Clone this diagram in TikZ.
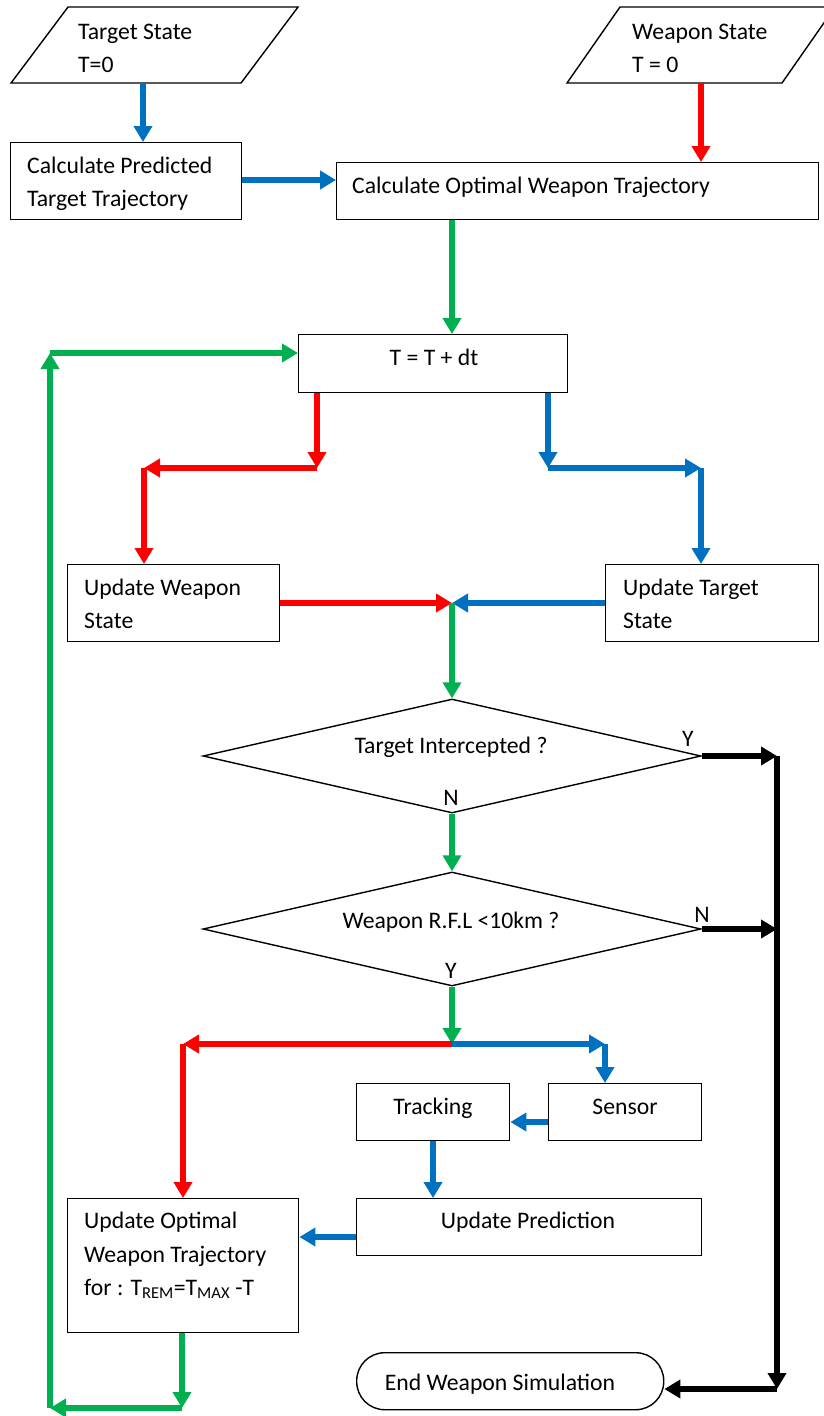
\documentclass[tikz,border=0pt]{standalone}
\usepackage{fontspec}
\setmainfont{Carlito}
\usetikzlibrary{arrows.meta,shapes.geometric}
\definecolor{flowblue}{HTML}{0070C0}
\definecolor{flowred}{HTML}{FF0000}
\definecolor{flowgreen}{HTML}{00B050}
\begin{document}
\begin{tikzpicture}[x=1pt,y=-1pt,
  font=\fontsize{23.7}{28}\selectfont,
  outline/.style={draw=black, line width=1.4pt},
  box/.style={outline, rectangle, inner sep=0pt, anchor=north west},
  decision/.style={outline, diamond, inner sep=0pt, minimum width=498pt, minimum height=114pt},
  lbl/.style={anchor=base west, inner sep=0pt},
  clbl/.style={anchor=base, inner sep=0pt},
  link/.style={line width=5.5pt, -{Triangle[length=16pt,width=18pt]}},
]
\useasboundingbox (0,0) rectangle (824,1416);
\clip (0,0) rectangle (824,1416);
\fill[white] (0,0) rectangle (824,1416);

% ---- input parallelograms
\draw[outline, line join=miter] (68,7) -- (298,7) -- (241,83) -- (11,83) -- cycle;
\coordinate (ts-out) at (143,83);
\node[lbl] (ts-l1) at (78,39) {Target State};
\node[lbl] (ts-l2) at (78,72) {T=0};

\draw[outline, line join=miter] (620,7) -- (835,7) -- (782,83) -- (567,83) -- cycle;
\coordinate (ws-out) at (701,83);
\node[lbl] (ws-l1) at (632,39) {Weapon State};
\node[lbl] (ws-l2) at (632,72) {T = 0};

% ---- process boxes
\node[box, minimum width=231pt, minimum height=77pt] (cpt) at (10,142) {};
\node[lbl] at (27,173) {Calculate Predicted};
\node[lbl] at (27,206) {Target Trajectory};

\node[box, minimum width=482pt, minimum height=57pt] (cow) at (336,162) {};
\node[lbl] at (352,193) {Calculate Optimal Weapon Trajectory};

\node[box, minimum width=269pt, minimum height=58pt] (tdt) at (298,334) {};
\node[clbl] at (434,365) {T = T + dt};

\node[box, minimum width=212pt, minimum height=77pt] (uws) at (67,564) {};
\node[lbl] at (84,595) {Update Weapon};
\node[lbl] at (84,628) {State};

\node[box, minimum width=213pt, minimum height=77pt] (uts) at (605,564) {};
\node[lbl] at (623,595) {Update Target};
\node[lbl] at (623,628) {State};

\node[decision] (d1) at (452,756) {};
\node[clbl] at (451,753) {Target Intercepted ?};
\node[clbl] at (688,746) {Y};
\node[clbl] at (451,805) {N};

\node[decision] (d2) at (452,929) {};
\node[clbl] at (451,928) {Weapon R.F.L <10km ?};
\node[clbl] at (702,922) {N};
\node[clbl] at (451,978) {Y};

\node[box, minimum width=153pt, minimum height=57pt] (trk) at (356,1083) {};
\node[clbl] at (433,1114) {Tracking};
\node[box, minimum width=153pt, minimum height=57pt] (sen) at (548,1083) {};
\node[clbl] at (625,1114) {Sensor};

\node[box, minimum width=345pt, minimum height=57pt] (upd) at (356,1198) {};
\node[clbl] at (528,1228) {Update Prediction};

\node[box, minimum width=231pt, minimum height=134pt] (uow) at (67,1198) {};
\node[lbl] at (84,1228) {Update Optimal};
\node[lbl] at (84,1262) {Weapon Trajectory};
\node[lbl] at (84,1295) {for : T\textsubscript{REM}=T\textsubscript{MAX} -T};

\node[outline, rectangle, rounded corners=28pt, inner sep=0pt, anchor=north west,
      minimum width=307pt, minimum height=57pt] (end) at (356,1352) {};
\node[clbl] at (500,1390) {End Weapon Simulation};

% ---- junction points
\coordinate (r1) at (317,468);
\coordinate (r2) at (144,468);
\coordinate (b1) at (548,468);
\coordinate (b2) at (701,468);
\coordinate (j1) at (452,603);
\coordinate (k1) at (777,756);
\coordinate (k2) at (777,929);
\coordinate (k3) at (777,1389);
\coordinate (j2) at (452,1044);
\coordinate (r3) at (183,1044);
\coordinate (b3) at (605,1044);
\coordinate (g1) at (182,1408);
\coordinate (g2) at (50,1408);
\coordinate (g3) at (50,353);

% ---- start
\draw[link, flowblue] (ts-out) -- (ts-out |- cpt.north);
\draw[link, flowred] (ws-out) -- (ws-out |- cow.north);
\draw[link, flowblue] (cpt.east |- 0,180) -- (cow.west |- 0,180);
\draw[link, flowgreen] (cow.south -| 452,0) -- (tdt.north -| 452,0);

% ---- time step fan-out
\draw[link, flowred] (tdt.south -| r1) -- (r1);
\draw[link, flowred] (r1) -- (r2);
\draw[link, flowred] (r2) -- (r2 |- uws.north);
\draw[link, flowblue] (tdt.south -| b1) -- (b1);
\draw[link, flowblue] (b1) -- (b2);
\draw[link, flowblue] (b2) -- (b2 |- uts.north);

% ---- merge
\draw[link, flowred] (uws.east |- j1) -- (j1);
\draw[link, flowblue] (uts.west |- j1) -- (j1);
\draw[link, flowgreen] (j1) -- (d1.north);

% ---- decisions
\draw[link, black] (d1.east) -- (k1);
\draw[link, flowgreen] (d1.south) -- (d2.north);
\draw[link, black] (d2.east) -- (k2);
\draw[link, black] (k1) -- (k3);
\draw[link, black] (k3) -- (end.east |- k3);
\draw[link, flowgreen] (d2.south) -- (j2);

% ---- guidance update
\draw[link, flowred] (j2) -- (r3);
\draw[link, flowred] (r3) -- (r3 |- uow.north);
\draw[link, flowblue] (j2) -- (b3);
\draw[link, flowblue] (b3) -- (b3 |- sen.north);
\draw[link, flowblue] (sen.west |- 0,1122) -- (trk.east |- 0,1122);
\draw[link, flowblue] (trk.south -| 433,0) -- (upd.north -| 433,0);
\draw[link, flowblue] (upd.west |- 0,1237) -- (uow.east |- 0,1237);

% ---- loop back
\draw[link, flowgreen] (uow.south -| g1) -- (g1);
\draw[link, flowgreen] (g1) -- (g2);
\draw[link, flowgreen] (g2) -- (g3);
\draw[link, flowgreen] (g3) -- (tdt.west |- g3);
\end{tikzpicture}
\end{document}
